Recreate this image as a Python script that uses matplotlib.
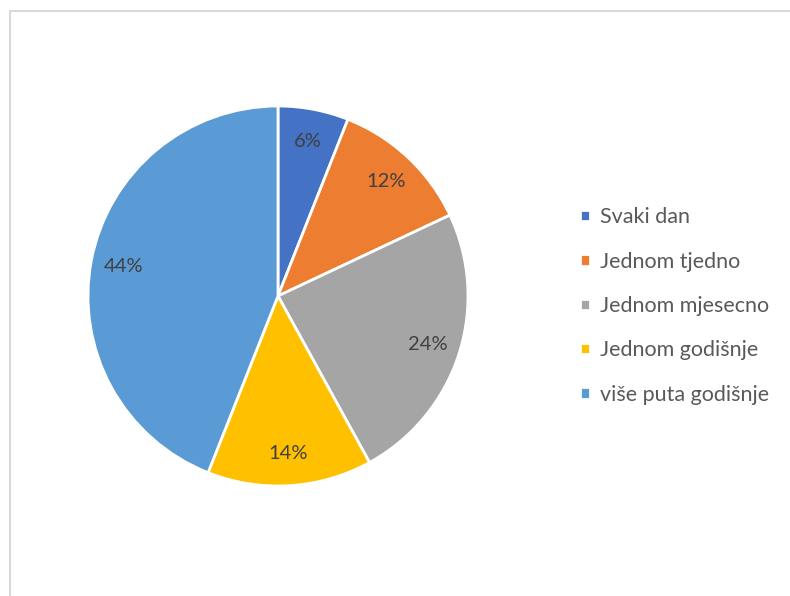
import matplotlib.pyplot as plt
from matplotlib.patches import Rectangle

categories = ['Svaki dan', 'Jednom tjedno', 'Jednom mjesecno', 'Jednom godišnje', 'više puta godišnje']
values = [6, 12, 24, 14, 44]
colors = ['#4472C4', '#ED7D31', '#A5A5A5', '#FFC000', '#5B9BD5']

plt.rcParams['font.family'] = ['Lato', 'DejaVu Sans']

fig = plt.figure(figsize=(7.9, 5.96), dpi=100)

# chart frame, running off the right and bottom edges
fig.patches.append(Rectangle((9.5 / 790, -0.05), 1.0, 1 - 10.5 / 596 + 0.05,
                             transform=fig.transFigure, fill=False,
                             edgecolor='#D9D9D9', linewidth=1.5))

cx, cy, r = 278, 296, 190
ax = fig.add_axes([(cx - r) / 790, (596 - cy - r) / 596, 2 * r / 790, 2 * r / 596])
wedges, texts = ax.pie(values, colors=colors, startangle=90, counterclock=False,
                       labels=[f'{v}%' for v in values], labeldistance=0.83,
                       wedgeprops=dict(edgecolor='white', linewidth=2),
                       textprops=dict(color='#404040', fontsize=14.5))
for t in texts:
    t.set_horizontalalignment('center')
    t.set_verticalalignment('center')
ax.set_xlim(-1, 1)
ax.set_ylim(-1, 1)
ax.set_aspect('equal')

fig.legend(wedges, categories, loc='center left', bbox_to_anchor=(561 / 790, 290 / 596),
           frameon=False, fontsize=15.5, labelcolor='#595959', handlelength=0.45,
           handleheight=0.45, handletextpad=0.45, labelspacing=1.13)

fig.savefig('out.png', dpi=100)
